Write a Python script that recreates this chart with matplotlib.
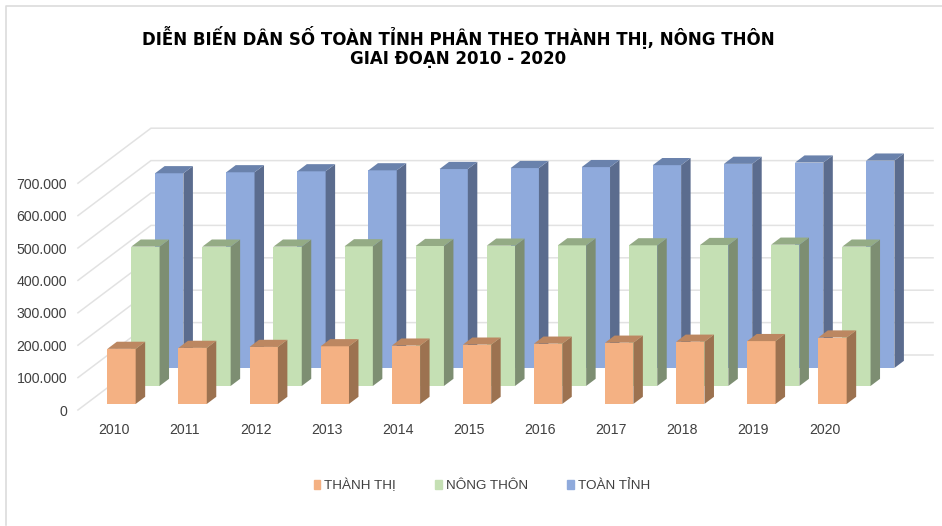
import matplotlib
matplotlib.use("Agg")
import matplotlib.pyplot as plt
from matplotlib.lines import Line2D
from matplotlib.patches import Patch

years = ["2010", "2011", "2012", "2013", "2014", "2015", "2016", "2017", "2018", "2019", "2020"]
thanh_thi = [170000, 173000, 176000, 178000, 180000, 183000, 186000, 189000, 192000, 194000, 205000]
nong_thon = [430000, 430000, 430000, 431000, 432000, 433000, 434000, 434000, 435000, 436000, 430000]
toan_tinh = [601000, 604000, 607000, 610000, 614000, 617000, 620000, 626000, 630000, 634000, 640000]
y_ticks = [0, 100000, 200000, 300000, 400000, 500000, 600000, 700000]
y_labels = ["0", "100.000", "200.000", "300.000", "400.000", "500.000", "600.000", "700.000"]
series_names = ["THÀNH THỊ", "NÔNG THÔN", "TOÀN TỈNH"]

W, H = 942, 526
fig = plt.figure(figsize=(W / 100, H / 100), dpi=100, facecolor="white")

# Axes in data units: x = category index, y = value. Front wall is the axes' left.
px_per_cat = 71.1
px_per_val = 32.4 / 100000
x0_px, y0_px = 113.5, 410.0
right_px, top_px = 933.0, 120.0
ax = fig.add_axes([78 / W, 1 - y0_px / H, (right_px - 78) / W, (y0_px - top_px) / H])
ax.set_xlim((78 - x0_px) / px_per_cat, (right_px - x0_px) / px_per_cat)
ax.set_ylim(0, (y0_px - top_px) / px_per_val)
ax.patch.set_alpha(0)
for s in ax.spines.values():
    s.set_visible(False)

depth_x = 73 / px_per_cat
depth_y = 55 / px_per_val
left = -0.5
right = 10.5
GRID = "#e2e2e2"
for v in y_ticks:
    ax.plot([left, left + depth_x, right + depth_x], [v, v + depth_y, v + depth_y],
            color=GRID, lw=1.1, solid_joinstyle="miter", zorder=1, clip_on=False)

bar_w = 28.3 / px_per_cat
bar_d = 0.13
rows = [
    (toan_tinh, 0.764, "#8FAADC", "#5B6C8E", "#6A82AC", 2),
    (nong_thon, 0.437, "#C5E0B4", "#7D8E72", "#94AB85", 3),
    (thanh_thi, 0.110, "#F4B183", "#9C7250", "#BC8761", 4),
]
for vals, d, face, side, top, z in rows:
    dx, dy = d * depth_x, d * depth_y
    ddx, ddy = bar_d * depth_x, bar_d * depth_y
    centers = [i + dx for i in range(len(vals))]
    ax.bar(centers, vals, width=bar_w, bottom=dy, color=face, zorder=z, align="center", linewidth=0)
    for c, v in zip(centers, vals):
        xl, xr = c - bar_w / 2, c + bar_w / 2
        yb, yt = dy, dy + v
        ax.fill([xr, xr + ddx, xr + ddx, xr], [yb, yb + ddy, yt + ddy, yt], color=side, lw=0, zorder=z)
        ax.fill([xl, xr, xr + ddx, xl + ddx], [yt, yt, yt + ddy, yt + ddy], color=top, lw=0, zorder=z)

ax.set_xticks(range(len(years)))
ax.set_xticklabels(years)
ax.set_yticks(y_ticks)
ax.set_yticklabels(y_labels)
ax.tick_params(axis="both", length=0, labelcolor="#404040")
ax.tick_params(axis="x", pad=9.2, labelsize=10.2)
ax.tick_params(axis="y", pad=7.8, labelsize=10.2)
for t in ax.get_xticklabels() + ax.get_yticklabels():
    t.set_fontfamily("Liberation Sans")

fig.text(458 / W, 1 - 37.5 / H, "DIỄN BIẾN DÂN SỐ TOÀN TỈNH PHÂN THEO THÀNH THỊ, NÔNG THÔN",
         ha="center", va="center", fontsize=12, fontweight="bold", family="DejaVu Sans", color="black")
fig.text(458 / W, 1 - 58.5 / H, "GIAI ĐOẠN 2010 - 2020",
         ha="center", va="center", fontsize=12, fontweight="bold", family="DejaVu Sans", color="black")

handles = [Patch(color=rows[2][2]), Patch(color=rows[1][2]), Patch(color=rows[0][2])]
fig.legend(handles, series_names, ncol=3, frameon=False, loc="center",
           bbox_to_anchor=(482 / W, 1 - 485.5 / H), handlelength=0.48, handleheight=0.55,
           handletextpad=0.32, columnspacing=2.9,
           prop={"family": "Liberation Sans", "size": 9.7}, labelcolor="#404040")

# Picture border at top and left
fig.add_artist(Line2D([5.5 / W, 5.5 / W, 1], [1 - 525 / H, 1 - 5.5 / H, 1 - 5.5 / H],
                      transform=fig.transFigure, color="#dcdcdc", lw=1.2))

fig.savefig("out.png", dpi=100)
